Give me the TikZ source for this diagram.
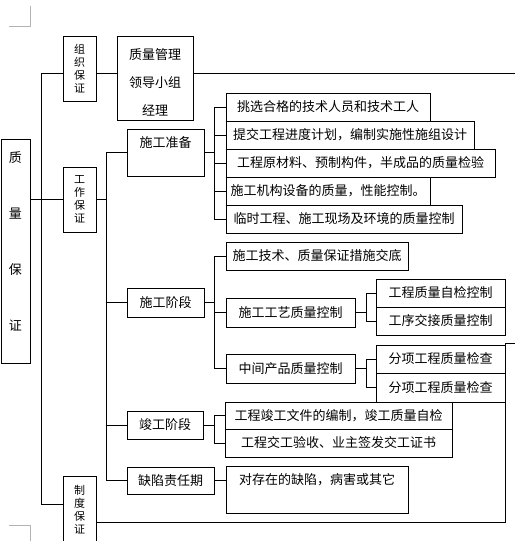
\documentclass[tikz,border=0pt]{standalone}
\usepackage{fontspec}
\newfontfamily\cjk{Noto Sans CJK SC}
\begin{document}
\begin{tikzpicture}[x=1pt,y=-1pt,
  box/.style={draw, line width=1pt, inner sep=0pt, anchor=center, align=center,
              font=\cjk\fontsize{13}{16}\selectfont},
  vbox/.style={box, minimum width=33pt, minimum height=65pt,
              font=\cjk\fontsize{11}{13}\selectfont},
  ln/.style={line width=1pt},
  cornermark/.style={gray!60, line width=1pt}]
\useasboundingbox (0,0) rectangle (515,541);

% corner marks
\draw[cornermark] (30,6) -- (30,26) -- (9,26);
\draw[cornermark] (9,525) -- (30,525) -- (30,541);

% left column
\node[box, minimum width=29pt, minimum height=224pt] (qa) at (15.5,251) {};
\node[font=\cjk\fontsize{13}{56}\selectfont, align=center, inner sep=0pt] (qat) at (15.5,241) {质\\量\\保\\证};

\node[vbox] (org) at (79.5,68.5) {组\\织\\保\\证};
\node[vbox] (work) at (79.5,199.5) {工\\作\\保\\证};
\node[vbox, minimum height=68pt] (sys) at (79.5,510) {制\\度\\保\\证};

\node[box, minimum width=76pt, minimum height=84pt] (mgr) at (155,78) {};
\node[font=\cjk\fontsize{13}{28}\selectfont, align=center, inner sep=0pt] (mgrt) at (155,82) {质量管理\\领导小组\\经理};

% second column
\node[box, minimum width=77pt, minimum height=47pt] (prep) at (165.5,152.5) {施工准备\\\strut};
\node[box, minimum width=77pt, minimum height=29pt] (cons) at (165.5,302.5) {施工阶段};
\node[box, minimum width=76pt, minimum height=28pt] (comp) at (165,425) {竣工阶段};
\node[box, minimum width=87pt, minimum height=27pt] (def) at (170.5,480.5) {缺陷责任期};

% preparation items
\node[box, minimum width=204pt, minimum height=28pt] (p1) at (328,107) {挑选合格的技术人员和技术工人};
\node[box, minimum width=248pt, minimum height=28pt] (p2) at (350,135) {提交工程进度计划，编制实施性施组设计};
\node[box, minimum width=269pt, minimum height=28pt] (p3) at (360.5,163) {工程原材料、预制构件，半成品的质量检验};
\node[box, minimum width=204pt, minimum height=28pt] (p4) at (328,191) {施工机构设备的质量，性能控制。};
\node[box, minimum width=236pt, minimum height=28pt] (p5) at (344,219) {临时工程、施工现场及环境的质量控制};

% construction items
\node[box, minimum width=182pt, minimum height=28pt] (c1) at (317,256) {施工技术、质量保证措施交底};
\node[box, minimum width=129pt, minimum height=29pt] (c2) at (290.5,312.5) {施工工艺质量控制};
\node[box, minimum width=129pt, minimum height=29pt] (c3) at (290.5,368.5) {中间产品质量控制};
\node[box, minimum width=129pt, minimum height=28pt] (c2a) at (440.5,293) {工程质量自检控制};
\node[box, minimum width=129pt, minimum height=28pt] (c2b) at (440.5,321) {工序交接质量控制};
\node[box, minimum width=129pt, minimum height=28pt] (c3a) at (440.5,359) {分项工程质量检查};
\node[box, minimum width=129pt, minimum height=29pt] (c3b) at (440.5,387.5) {分项工程质量检查};

% completion items
\node[box, minimum width=227pt, minimum height=27pt] (k1) at (338.5,415.5) {工程竣工文件的编制，竣工质量自检};
\node[box, minimum width=227pt, minimum height=28pt] (k2) at (338.5,443) {工程交工验收、业主签发交工证书};

% defect item
\node[box, minimum width=182pt, minimum height=47pt] (d1) at (317,489.5) {对存在的缺陷，病害或其它\\\strut};

% helper coordinates
\coordinate (t1) at (41,73);
\coordinate (t2) at (41,504);
\coordinate (tr) at (515,73);
\coordinate (s2) at (106,0);
\coordinate (b1) at (214,0);
\coordinate (b2) at (366,0);
\coordinate (fr1) at (505,522);
\coordinate (fr2) at (505,343);
\coordinate (fr3) at (515,343);

% first level
\draw[ln] (t1) -- (t2) -- (sys.west |- t2);
\draw[ln] (t1) -- (org.west |- t1);
\draw[ln] (org.east |- t1) -- (mgr.west |- t1);
\draw[ln] (mgr.east |- t1) -- (tr);
\draw[ln] (qa.east |- work.west) -- (work.west);

% second level spine
\draw[ln] (work.east) -- (s2 |- work.east);
\draw[ln] (s2 |- prep.west) -- (s2 |- def.west);
\foreach \n in {prep,cons,comp,def} \draw[ln] (s2 |- \n.west) -- (\n.west);

% preparation bracket
\draw[ln] (prep.east) -- (b1 |- prep.east);
\draw[ln] (b1 |- p1.west) -- (b1 |- p5.west);
\foreach \n in {p1,p2,p3,p4,p5} \draw[ln] (b1 |- \n.west) -- (\n.west);

% construction bracket
\draw[ln] (cons.east) -- (b1 |- cons.east);
\draw[ln] (b1 |- c1.west) -- (b1 |- c3.west);
\foreach \n in {c1,c2,c3} \draw[ln] (b1 |- \n.west) -- (\n.west);

\draw[ln] (c2.east) -- (b2 |- c2.east);
\draw[ln] (b2 |- c2a.west) -- (b2 |- c2b.west);
\foreach \n in {c2a,c2b} \draw[ln] (b2 |- \n.west) -- (\n.west);

\draw[ln] (c3.east) -- (b2 |- c3.east);
\draw[ln] (b2 |- c3a.west) -- (b2 |- c3b.west);
\foreach \n in {c3a,c3b} \draw[ln] (b2 |- \n.west) -- (\n.west);

% completion bracket
\draw[ln] (comp.east) -- (b1 |- comp.east);
\draw[ln] (b1 |- k1.west) -- (b1 |- k2.west);
\foreach \n in {k1,k2} \draw[ln] (b1 |- \n.west) -- (\n.west);

% defect
\draw[ln] (def.east) -- (d1.west |- def.east);

% outer frame from system box
\draw[ln] (sys.east |- fr1) -- (fr1) -- (fr2) -- (fr3);
\end{tikzpicture}
\end{document}
